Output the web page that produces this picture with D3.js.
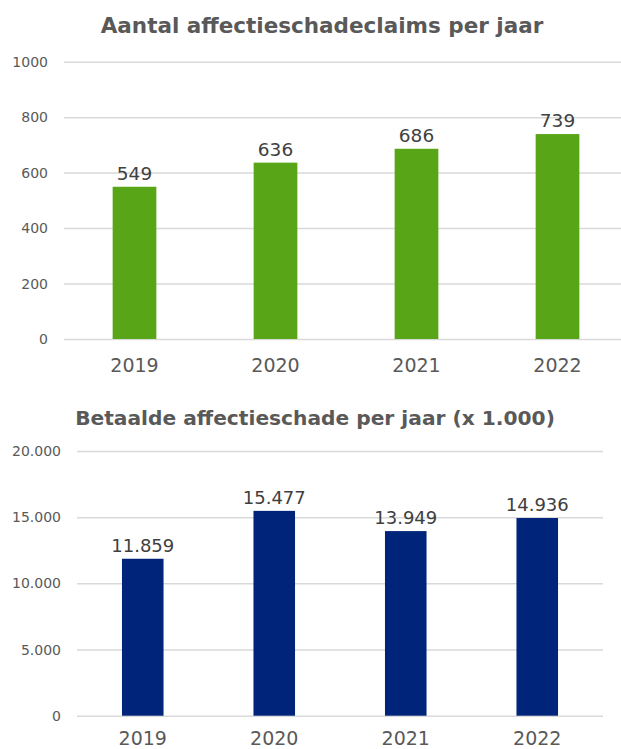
<!DOCTYPE html>
<html>
<head>
<meta charset="utf-8">
<script src="https://cdn.jsdelivr.net/npm/d3@7"></script>
<style>
  body { margin: 0; background: #fff; }
  svg { display: block; font-family: "DejaVu Sans", sans-serif; }
</style>
</head>
<body>
<svg id="chart" width="621" height="749"></svg>
<script>
// data
const years = ['2019', '2020', '2021', '2022'];
const claims = [549, 636, 686, 739];
const paid = [11859, 15477, 13949, 14936];
const claimTicks = [0, 200, 400, 600, 800, 1000];
const paidTicks = [0, 5000, 10000, 15000, 20000];

const nl = d3.formatLocale({ decimal: ',', thousands: '.', grouping: [3], currency: ['€', ''] });
const fmtNl = nl.format(',');

const svg = d3.select('#chart');

function drawChart(cfg) {
  const g = svg.append('g');
  const x = d3.scaleBand().domain(years).range(cfg.xRange)
    .paddingInner(cfg.pad).paddingOuter(cfg.pad / 2);
  const y = d3.scaleLinear().domain(cfg.yDomain).range(cfg.yRange);

  // grid + tick labels
  const ax = g.append('g')
    .attr('transform', `translate(${cfg.gridX0},0)`)
    .call(d3.axisLeft(y).tickValues(cfg.ticks).tickFormat(cfg.tickFmt)
      .tickSize(-(cfg.gridX1 - cfg.gridX0)).tickPadding(16));
  ax.select('.domain').remove();
  ax.selectAll('line').attr('stroke', '#d9d9d9').attr('stroke-width', 1.5);
  ax.selectAll('text').attr('fill', '#595959').attr('font-size', '14px')
    .attr('font-family', 'DejaVu Sans');

  g.append('g').selectAll('rect').data(cfg.values).join('rect')
    .attr('x', (d, i) => x(years[i]))
    .attr('width', x.bandwidth())
    .attr('y', d => y(d))
    .attr('height', d => y(0) - y(d))
    .attr('fill', cfg.color);

  g.append('g').selectAll('text').data(cfg.values).join('text')
    .attr('x', (d, i) => x(years[i]) + x.bandwidth() / 2)
    .attr('y', d => y(d) - 7)
    .attr('text-anchor', 'middle')
    .attr('font-size', cfg.valSize)
    .attr('fill', '#404040')
    .text(d => cfg.valFmt(d));

  g.append('g').selectAll('text').data(years).join('text')
    .attr('x', d => x(d) + x.bandwidth() / 2)
    .attr('y', y(0) + cfg.yearOff)
    .attr('text-anchor', 'middle')
    .attr('font-size', '19px')
    .attr('fill', '#595959')
    .text(d => d);

  g.append('text')
    .attr('x', cfg.titleX).attr('y', cfg.titleY)
    .attr('text-anchor', 'middle')
    .attr('font-size', cfg.titleSize).attr('font-weight', 'bold')
    .attr('fill', '#595959')
    .text(cfg.title);
}

drawChart({
  title: 'Aantal affectieschadeclaims per jaar', titleX: 322, titleY: 33, titleSize: '21.5px',
  values: claims, ticks: claimTicks, yDomain: [0, 1000], yRange: [339, 61.7],
  xRange: [64, 628], pad: 0.69, gridX0: 64, gridX1: 621,
  tickFmt: d3.format('d'), valFmt: d3.format('d'), valSize: '18.5px',
  color: '#58a618', yearOff: 32.5
});

drawChart({
  title: 'Betaalde affectieschade per jaar (x 1.000)', titleX: 315, titleY: 425, titleSize: '20.2px',
  values: paid, ticks: paidTicks, yDomain: [0, 20000], yRange: [715.7, 451],
  xRange: [77, 603], pad: 0.684, gridX0: 77, gridX1: 603,
  tickFmt: fmtNl, valFmt: fmtNl, valSize: '18px',
  color: '#00247a', yearOff: 29
});
</script>
</body>
</html>
